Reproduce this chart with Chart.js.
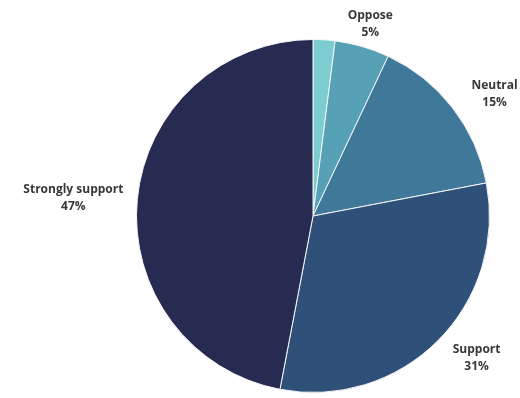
<!DOCTYPE html>
<html>
<head>
<meta charset="utf-8">
<script src="https://cdn.jsdelivr.net/npm/chart.js@4"></script>
<style>
  html, body { margin: 0; padding: 0; background: #ffffff; }
  #wrap { width: 520px; height: 398px; }
</style>
</head>
<body>
<div id="wrap"><canvas id="opinionPie" width="520" height="398"></canvas></div>
<script>
// survey responses, clockwise from 12 o'clock
const categories = ['Strongly oppose', 'Oppose', 'Neutral', 'Support', 'Strongly support'];
const shares = [2, 5, 15, 31, 47];
const sliceColors = ['#7dcdd0', '#56a1b6', '#407899', '#2f5179', '#272a51'];

// outside labels (name + percent), small slices are left unlabeled
const outsideLabels = {
    id: 'outsideLabels',
    afterDatasetsDraw(chart) {
        const ctx = chart.ctx;
        const meta = chart.getDatasetMeta(0);
        ctx.save();
        ctx.font = 'bold 12px "Open Sans", sans-serif';
        ctx.fillStyle = '#383838';
        ctx.textAlign = 'center';
        ctx.textBaseline = 'middle';
        meta.data.forEach((arc, i) => {
            if (shares[i] < 3) return;
            const mid = (arc.startAngle + arc.endAngle) / 2;
            const lines = [categories[i], shares[i] + '%'];
            const halfW = Math.max(...lines.map(t => ctx.measureText(t).width)) / 2;
            const cos = Math.cos(mid), sin = Math.sin(mid);
            const dist = arc.outerRadius + 24;
            // push side labels sideways so the text clears the rim
            const side = Math.min(1, Math.max(0, 2 * Math.abs(cos) - 0.5));
            const cx = arc.x + cos * dist + Math.sign(cos) * Math.min(halfW, 40) * side;
            const cy = arc.y + sin * dist;
            ctx.fillText(lines[0], cx, cy - 8);
            ctx.fillText(lines[1], cx, cy + 9);
        });
        ctx.restore();
    }
};

new Chart(document.getElementById('opinionPie').getContext('2d'), {
    type: 'pie',
    data: {
        labels: categories,
        datasets: [{
            data: shares,
            backgroundColor: sliceColors,
            borderColor: '#f4f6f8',
            borderWidth: 1
        }]
    },
    options: {
        responsive: false,
        animation: false,
        layout: { padding: { top: 39, bottom: 5, left: 136, right: 30 } },
        plugins: {
            legend: { display: false },
            tooltip: { enabled: false }
        }
    },
    plugins: [outsideLabels]
});
</script>
</body>
</html>
